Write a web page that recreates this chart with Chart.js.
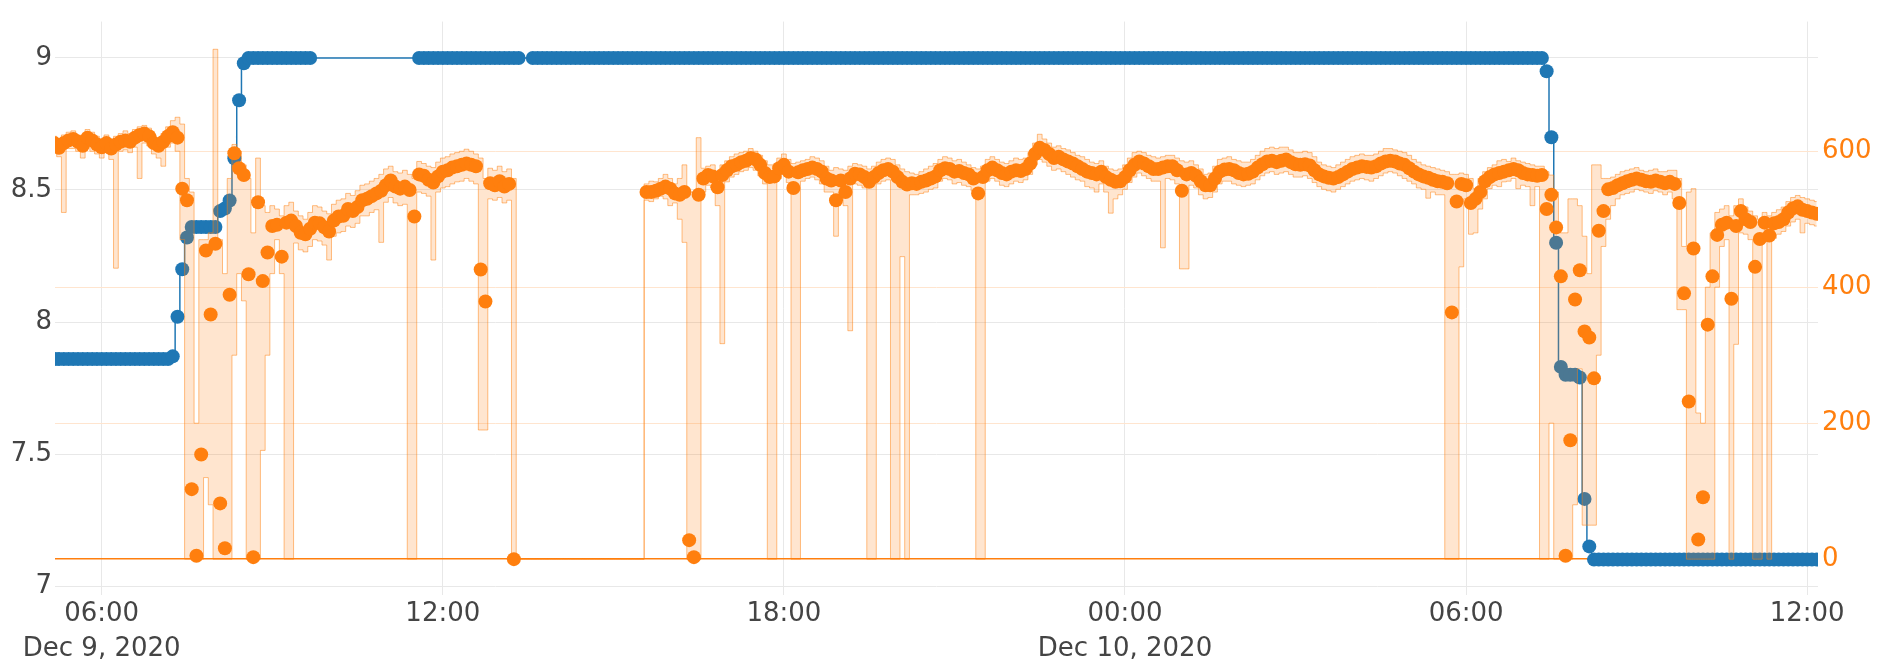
<!DOCTYPE html>
<html>
<head>
<meta charset="utf-8">
<script src="https://cdn.jsdelivr.net/npm/chart.js@4/dist/chart.umd.min.js"></script>
<style>
  html, body { margin: 0; padding: 0; background: #fff; }
  #wrap { width: 1883px; height: 665px; position: relative; }
</style>
</head>
<body>
<div id="wrap"><canvas id="chart" width="1883" height="665"></canvas></div>
<script>
// Samples every 5 minutes, starting Dec 9 2020 05:10 (x in hours since Dec 9 00:00)
const SAMPLE_START_H = 5 + 10 / 60;
const SAMPLE_STEP_H = 5 / 60;
const SAMPLE_COUNT = 373;

const xTickHours  = [6, 12, 18, 24, 30, 36];
const xTickLabels = ['06:00', '12:00', '18:00', '00:00', '06:00', '12:00'];
const xDateLabels = ['Dec 9, 2020', '', '', 'Dec 10, 2020', '', ''];
const leftTicks   = [7, 7.5, 8, 8.5, 9];
const rightTicks  = [0, 200, 400, 600];

// left axis series (blue), null = no reading
const levelValues = [
  7.86,7.86,7.86,7.86,7.86,7.86,7.86,7.86,7.86,7.86,
  7.86,7.86,7.86,7.86,7.86,7.86,7.86,7.86,7.86,7.86,
  7.86,7.86,7.86,7.86,7.86,7.87,8.02,8.2,8.32,8.36,
  8.36,8.36,8.36,8.36,8.36,8.42,8.43,8.46,8.62,8.84,
  8.98,9,9,9,9,9,9,9,9,9,
  9,9,9,9,9,null,null,null,null,null,
  null,null,null,null,null,null,null,null,null,null,
  null,null,null,null,null,null,null,9,9,9,
  9,9,9,9,9,9,9,9,9,9,
  9,9,9,9,9,9,9,9,9,null,
  null,9,9,9,9,9,9,9,9,9,
  9,9,9,9,9,9,9,9,9,9,
  9,9,9,9,9,9,9,9,9,9,
  9,9,9,9,9,9,9,9,9,9,
  9,9,9,9,9,9,9,9,9,9,
  9,9,9,9,9,9,9,9,9,9,
  9,9,9,9,9,9,9,9,9,9,
  9,9,9,9,9,9,9,9,9,9,
  9,9,9,9,9,9,9,9,9,9,
  9,9,9,9,9,9,9,9,9,9,
  9,9,9,9,9,9,9,9,9,9,
  9,9,9,9,9,9,9,9,9,9,
  9,9,9,9,9,9,9,9,9,9,
  9,9,9,9,9,9,9,9,9,9,
  9,9,9,9,9,9,9,9,9,9,
  9,9,9,9,9,9,9,9,9,9,
  9,9,9,9,9,9,9,9,9,9,
  9,9,9,9,9,9,9,9,9,9,
  9,9,9,9,9,9,9,9,9,9,
  9,9,9,9,9,9,9,9,9,9,
  9,9,9,9,9,9,9,9,9,9,
  9,9,9,9,9,8.95,8.7,8.3,7.83,7.8,
  7.8,7.8,7.79,7.33,7.15,7.1,7.1,7.1,7.1,7.1,
  7.1,7.1,7.1,7.1,7.1,7.1,7.1,7.1,7.1,7.1,
  7.1,7.1,7.1,7.1,7.1,7.1,7.1,7.1,7.1,7.1,
  7.1,7.1,7.1,7.1,7.1,7.1,7.1,7.1,7.1,7.1,
  7.1,7.1,7.1,7.1,7.1,7.1,7.1,7.1,7.1,7.1,
  7.1,7.1,7.1
];

// right axis series (orange): interval mean, null = no reading
const rateMean = [
  612,605,612,616,618,614,608,620,616,610,
  606,612,604,610,614,616,614,620,624,626,
  622,612,608,614,622,628,620,545,528,103,
  5,154,454,360,464,82,16,389,597,575,
  565,419,3,525,409,451,490,492,445,495,
  498,490,480,478,486,495,494,488,482,498,
  504,505,515,512,518,528,530,534,538,542,
  550,557,548,545,548,543,504,566,564,558,
  554,563,570,572,576,578,580,582,580,578,
  426,379,553,550,556,548,552,0,null,null,
  null,null,null,null,null,null,null,null,null,null,
  null,null,null,null,null,null,null,null,null,null,
  null,null,null,null,null,540,540,542,545,548,
  545,538,536,540,28,3,536,560,565,563,
  547,565,572,578,580,584,586,590,588,580,
  568,562,563,575,580,570,546,569,572,574,
  576,574,570,560,557,528,557,540,560,567,
  566,562,555,562,568,572,574,570,562,555,
  551,553,552,555,557,560,563,572,575,574,
  570,571,568,566,560,538,562,572,576,572,
  568,566,570,572,571,574,582,596,605,602,
  596,590,592,588,585,582,578,574,570,568,
  566,570,562,558,555,556,562,572,580,585,
  582,578,574,574,576,578,578,572,542,566,
  568,564,556,550,550,560,570,573,574,572,
  568,566,567,570,576,581,585,586,584,586,
  588,584,581,580,581,579,572,566,563,561,
  560,562,566,570,574,576,578,577,576,578,
  582,585,586,585,582,580,575,570,566,563,
  561,558,556,555,553,363,526,552,550,524,
  530,540,556,562,566,568,570,572,574,572,
  568,566,565,564,565,515,536,488,416,5,
  175,382,425,335,326,266,483,512,544,546,
  550,553,556,558,560,558,556,555,557,555,
  553,555,552,524,391,232,457,29,91,345,
  416,477,492,495,383,490,512,500,496,430,
  471,495,476,494,496,500,510,516,519,514,
  512,510,508
];

// right axis series (orange): interval maximum
const rateMax = [
  622,618,624,628,630,624,620,632,628,622,
  618,624,616,622,626,630,626,632,636,638,
  634,624,620,626,636,645,650,640,560,540,
  200,470,470,480,750,470,420,560,610,600,
  580,560,480,590,520,510,520,515,505,520,
  525,512,505,500,510,520,518,512,508,522,
  528,530,538,535,542,550,552,556,560,566,
  574,578,570,568,572,566,560,585,582,578,
  576,584,590,592,596,598,600,603,600,596,
  590,560,575,572,578,570,574,560,0,0,
  0,0,0,0,0,0,0,0,0,0,
  0,0,0,0,0,0,0,0,0,0,
  0,0,0,0,0,552,556,555,560,566,
  560,552,560,580,540,540,620,575,578,580,
  566,580,586,592,596,598,600,604,600,594,
  586,580,580,590,596,588,582,584,586,588,
  592,590,586,578,572,576,574,572,578,582,
  580,578,574,578,584,588,590,588,580,574,
  570,568,566,570,574,578,582,588,592,590,
  586,588,584,580,576,574,578,588,592,588,
  584,582,586,590,588,590,598,612,625,618,
  612,606,608,604,602,598,594,592,588,584,
  582,586,578,574,572,574,580,590,598,600,
  598,594,592,590,592,594,594,590,586,584,
  586,580,574,566,568,578,588,590,592,588,
  586,584,584,588,594,600,604,606,604,606,
  606,602,598,598,600,598,592,584,580,578,
  576,580,584,588,592,594,596,594,594,596,
  600,604,604,602,600,598,594,588,584,580,
  578,576,574,572,570,566,566,568,566,560,
  545,560,570,576,580,586,588,585,590,586,
  584,582,580,578,578,570,565,540,480,480,
  530,530,520,475,420,580,580,560,560,562,
  566,570,572,574,576,572,570,572,574,570,
  570,572,572,560,460,540,545,215,200,400,
  480,510,515,520,505,520,530,518,512,505,
  500,510,505,510,514,518,526,532,535,532,
  530,528,526
];

// right axis series (orange): interval minimum
const rateMin = [
  600,592,510,604,604,600,590,608,600,596,
  590,598,588,428,600,602,598,606,560,612,
  608,596,590,578,606,612,600,470,0,0,
  0,0,120,80,0,0,0,0,300,420,
  380,0,0,0,160,300,420,470,420,0,
  0,465,455,452,460,470,468,462,440,475,
  480,482,490,488,494,505,505,510,514,466,
  525,532,524,520,522,0,0,540,538,534,
  440,540,546,548,552,555,556,560,556,552,
  190,190,530,528,532,524,528,0,0,0,
  0,0,0,0,0,0,0,0,0,0,
  0,0,0,0,0,0,0,0,0,0,
  0,0,0,0,0,528,526,530,534,530,
  520,524,500,466,0,0,0,540,550,546,
  520,317,555,562,566,570,572,576,572,564,
  552,0,0,560,566,554,0,0,556,560,
  562,558,552,540,540,475,540,520,336,552,
  550,546,0,0,552,556,558,0,0,445,
  0,536,536,538,540,544,546,556,560,558,
  552,554,550,548,542,0,0,556,560,556,
  550,548,552,556,554,558,566,580,588,584,
  578,572,574,570,566,562,558,556,548,546,
  540,552,540,509,530,536,544,554,562,568,
  564,560,556,556,458,560,558,552,427,427,
  550,546,536,530,532,540,552,556,556,552,
  550,548,550,552,558,564,568,570,566,568,
  570,566,562,562,564,560,554,548,544,542,
  540,544,548,552,556,558,560,558,556,560,
  564,568,570,568,564,560,556,552,546,544,
  531,540,536,536,0,0,0,430,530,478,
  480,515,530,545,550,548,555,556,560,545,
  550,548,520,548,0,0,200,0,0,0,
  0,80,280,50,50,50,300,460,500,520,
  530,536,538,540,544,542,540,538,542,540,
  536,540,530,367,367,0,0,0,0,0,
  0,400,460,470,0,316,480,478,470,0,
  0,470,0,472,478,482,490,496,500,480,
  494,492,490
];

[levelValues, rateMean, rateMax, rateMin].forEach((arr, k) => {
  if (arr.length !== SAMPLE_COUNT) throw new Error('series ' + k + ' length ' + arr.length);
});

const BLUE = '#1f77b4';
const ORANGE = '#ff7f0e';
const TEXT = '#444';
const GRID = '#e8e8e8';
const FONT = { family: '"DejaVu Sans", Verdana, sans-serif', size: 26, lineHeight: 1.35 };
const MARKER_RADIUS = 7;

const toPoints = values => values.map((v, i) => ({ x: SAMPLE_START_H + i * SAMPLE_STEP_H, y: v }));

new Chart(document.getElementById('chart'), {
  type: 'line',
  data: {
    datasets: [
      {
        label: 'mean',
        data: toPoints(rateMean),
        yAxisID: 'y2',
        showLine: false,
        pointRadius: MARKER_RADIUS,
        pointBorderWidth: 0,
        pointBackgroundColor: ORANGE,
        pointBorderColor: ORANGE
      },
      {
        label: 'min',
        data: toPoints(rateMin),
        yAxisID: 'y2',
        stepped: 'middle',
        borderColor: 'rgba(255,127,14,0.5)',
        borderWidth: 1,
        pointRadius: 0,
        fill: false
      },
      {
        label: 'max',
        data: toPoints(rateMax),
        yAxisID: 'y2',
        stepped: 'middle',
        borderColor: 'rgba(255,127,14,0.5)',
        borderWidth: 1,
        pointRadius: 0,
        fill: '-1',
        backgroundColor: 'rgba(255,127,14,0.2)'
      },
      {
        label: 'level',
        data: toPoints(levelValues),
        yAxisID: 'y',
        stepped: 'middle',
        spanGaps: true,
        borderColor: BLUE,
        borderWidth: 1.5,
        pointRadius: MARKER_RADIUS,
        pointBorderWidth: 0,
        pointBackgroundColor: BLUE,
        pointBorderColor: BLUE,
        fill: false
      }
    ]
  },
  options: {
    responsive: false,
    animation: false,
    devicePixelRatio: 1,
    layout: { padding: { top: 7, left: 0, right: 0, bottom: 0 } },
    plugins: { legend: { display: false }, tooltip: { enabled: false } },
    events: [],
    scales: {
      x: {
        type: 'linear',
        position: 'bottom',
        min: 5.1785,
        max: 36.19,
        grid: { color: GRID, lineWidth: 1, drawTicks: false },
        border: { display: false },
        afterBuildTicks: s => { s.ticks = xTickHours.map(v => ({ value: v })); },
        afterFit: s => { s.height = 70; },
        ticks: {
          autoSkip: false,
          maxRotation: 0,
          padding: 2,
          color: TEXT,
          font: FONT,
          callback: v => {
            const k = xTickHours.indexOf(v);
            if (k < 0) return '';
            return xDateLabels[k] ? [xTickLabels[k], xDateLabels[k]] : xTickLabels[k];
          }
        }
      },
      y: {
        position: 'left',
        min: 6.966,
        max: 9.138,
        grid: { color: GRID, lineWidth: 1, drawTicks: false },
        border: { display: false },
        afterBuildTicks: s => { s.ticks = leftTicks.map(v => ({ value: v })); },
        afterFit: s => { s.width = 55; },
        ticks: { padding: 3, color: TEXT, font: FONT, callback: v => String(v) }
      },
      y2: {
        position: 'right',
        min: -52.7,
        max: 790.8,
        grid: {
          color: c => (c.tick && c.tick.value === 0) ? ORANGE : '#ffe5cf',
          lineWidth: c => (c.tick && c.tick.value === 0) ? 1.5 : 1,
          drawTicks: false
        },
        border: { display: false },
        afterBuildTicks: s => { s.ticks = rightTicks.map(v => ({ value: v })); },
        afterFit: s => { s.width = 65; },
        ticks: { padding: 4, color: ORANGE, font: FONT, callback: v => String(v) }
      }
    }
  }
});
</script>
</body>
</html>
